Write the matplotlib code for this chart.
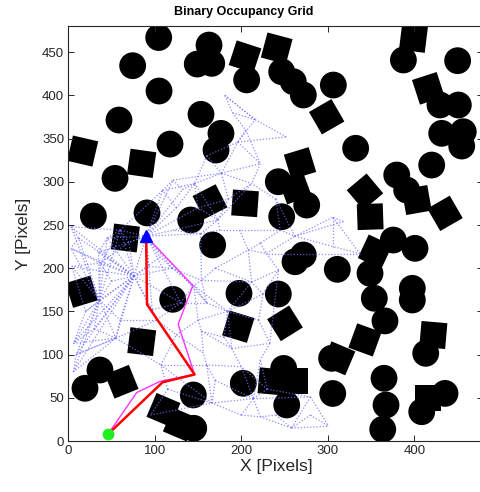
import matplotlib
matplotlib.use("Agg")
import matplotlib.pyplot as plt
from matplotlib.patches import Circle, Rectangle

plt.rcParams['font.family'] = ['Liberation Sans', 'DejaVu Sans']

# ---------------- data ----------------
circle_x = [104.5, 74.4, 162.7, 149.1, 165.8, 104.9, 58.6, 153.4, 117.6, 176.5, 170.8, 54, 29, 91,
            141.5, 206.2, 246.7, 260.1, 271.7, 306.4, 387.4, 450.1, 429.7, 450.9, 431.7, 456.6, 454.8,
            332.2, 420.1, 242.8, 275.6, 246.7, 379.7, 391.2, 375.7, 400.8, 262.1, 271.7, 311, 348.8,
            242.8, 353.8, 397.7, 397.7, 366.1, 413.2, 249, 252.5, 305.7, 365, 367.3, 363.5, 435.5,
            408.6, 166.9, 120.7, 197.3, 36.6, 19.3, 202.3, 144.5, 145, 304.4]
circle_y = [467, 434.4, 458.3, 436.3, 437.1, 405.1, 371.5, 378.1, 343.7, 356.1, 336.8, 304, 260.4, 264,
            255.8, 418, 427.4, 415.9, 400.5, 412, 441, 440.2, 388.9, 388.9, 356.1, 358, 341.4,
            338.8, 319.4, 300.1, 273.1, 259.6, 307.9, 290.5, 232.6, 223, 207.5, 215.3, 198.7, 194.1,
            170.1, 165.2, 176.7, 163.2, 139, 101.5, 84, 41.7, 55, 72.6, 41.7, 13.5, 55.1,
            33.9, 226.9, 164, 170.9, 82.2, 61, 66.8, 53.3, 14.7, 95.7]
circle_r = 15.5

square_x = [16.6, 84.8, 163.8, 204.3, 66, 204.3, 240.9, 298.7, 399, 416.2, 267.9, 343, 349, 435.5,
            402.8, 354.6, 250.5, 196.5, 312.2, 343, 422, 235, 262, 416.2, 61.7, 84.9, 15.5, 110, 129, 262]
square_y = [335.6, 321.4, 277, 275.1, 235, 444.8, 454.5, 375.3, 466, 408.2, 321.4, 288.5, 259.6, 263.5,
            278.9, 219.1, 136.2, 132.3, 95.7, 117, 122.7, 69, 69, 49.4, 68.6, 115, 172.8, 36, 19, 293]
square_angle = [-13, -8, 27, -4, -7, -18, -15, 30, -7, 18, 17, 40, 2, 30,
                10, -25, 32, -17, -23, -20, -5, -5, 0, 0, 22, -7, 17, -23, -23, 20]
square_side = 30

node_x = [90, 76, 36, 3, 3, 4, 37, 35, 6, 6, 9, 55, 60, 109, 121, 132, 153, 106, 93, 121,
          102, 97, 107, 125, 150, 156, 145, 175, 198, 229, 216, 252, 196, 222, 212, 177, 146, 173, 208, 306,
          306, 262, 243, 212, 154, 233, 160, 166, 214, 258, 301, 280, 189, 154, 200, 222, 222, 184, 170, 181,
          337, 318, 245, 222, 30, 20, 50, 60, 70, 120, 130, 115, 95, 170, 200, 240, 280, 230, 180, 220,
          225, 160, 12, 45, 125, 150, 185, 240, 160, 190, 205]
node_y = [237, 191, 163, 248, 223, 202, 206, 218, 113, 80, 100, 119, 244, 290, 302, 291, 240, 213, 202, 244,
          140, 152, 88, 123, 140, 102, 180, 244, 244, 217, 372, 352, 346, 321, 298, 310, 298, 256, 221, 259,
          225, 237, 198, 184, 186, 113, 88, 44, 49, 15, 17, 51, 107, 127, 86, 94, 28, 150, 200, 400,
          217, 254, 244, 229, 130, 150, 185, 140, 230, 200, 160, 60, 30, 70, 30, 30, 30, 60, 120, 140,
          170, 160, 235, 235, 270, 270, 280, 280, 330, 380, 360]
edge_from = [0, 0, 0, 0, 0, 0, 0, 0, 0, 0, 0,
             1, 1, 1, 1, 1, 1, 1, 1, 1, 1, 1, 1, 1,
             2, 2, 2, 2, 2, 2, 2, 2,
             11, 11, 11, 11, 12, 12, 12, 13, 14, 15, 14, 35, 35, 35, 32, 30, 32, 30, 32, 33, 36, 36, 13,
             16, 37, 27, 28, 38, 29, 41, 40, 41, 16, 44, 26, 44, 43, 42, 38, 16, 37, 16, 19,
             21, 20, 23, 24, 53, 52, 45, 52, 54, 46, 47, 48, 46, 25, 22, 22, 47, 48, 51, 49, 51, 56, 56,
             45, 53, 57, 57, 57, 26, 55, 58, 58, 58, 2, 6, 5, 8, 10, 9,
             1, 1, 1, 1, 1, 1, 1, 1, 1, 1, 1,
             2, 2, 2, 2, 2, 2, 2,
             0, 0, 0, 0, 0, 0, 0,
             84, 84, 85, 85, 85, 86, 86, 86, 87, 87, 87, 62, 62, 62, 63, 63, 60, 60, 61, 61, 60,
             88, 88, 88, 89, 89, 90, 90, 59, 59,
             70, 70, 70, 70, 81, 81, 81, 69, 69, 69, 69,
             71, 71, 72, 71, 73, 73, 73, 74, 74, 74, 75, 75, 76, 76, 77, 77, 77, 77, 78, 78, 78,
             79, 79, 79, 80, 80, 80,
             64, 64, 65, 65, 66, 67, 67, 68, 68, 82, 82, 83, 83]
edge_to = [1, 12, 13, 14, 15, 16, 17, 18, 19, 7, 21,
           2, 3, 4, 5, 6, 7, 12, 18, 21, 20, 11, 8, 17,
           4, 5, 8, 9, 10, 11, 6, 3,
           9, 10, 22, 20, 3, 6, 13, 14, 15, 36, 35, 32, 33, 34, 30, 31, 31, 59, 33, 34, 35, 37, 36,
           37, 27, 28, 38, 29, 41, 40, 39, 39, 44, 26, 24, 43, 42, 29, 43, 27, 34, 19, 37,
           20, 23, 24, 53, 52, 45, 55, 54, 46, 47, 48, 54, 25, 23, 23, 46, 22, 51, 49, 50, 50, 48, 49,
           42, 25, 24, 43, 52, 57, 48, 44, 43, 38, 7, 4, 6, 11, 11, 10,
           64, 65, 66, 67, 68, 69, 70, 82, 83, 10, 9,
           64, 65, 66, 67, 82, 83, 12,
           68, 83, 84, 85, 69, 70, 81,
           13, 36, 36, 37, 86, 34, 35, 37, 34, 62, 41, 28, 41, 63, 29, 38, 40, 39, 39, 41, 29,
           35, 36, 32, 30, 90, 32, 33, 89, 30,
           20, 21, 26, 81, 44, 26, 57, 17, 18, 26, 44,
           22, 72, 47, 47, 46, 47, 48, 47, 48, 56, 56, 49, 49, 50, 48, 51, 54, 55, 52, 57, 53,
           45, 57, 80, 43, 42, 57,
           8, 11, 8, 5, 6, 11, 20, 12, 6, 3, 4, 12, 7]

red_x = [46, 109, 146, 91, 90]
red_y = [8, 68, 77, 158, 237]
mag_x = [46, 79, 106, 146, 127, 144, 90]
mag_y = [8, 56, 69, 77, 135, 180, 237]
start_xy = (46, 8)
goal_xy = (90, 237)

# ---------------- figure ----------------
W, H = 481, 492
fig = plt.figure(figsize=(W / 100, H / 100), dpi=100)
ax = fig.add_axes([68.3 / W, 51 / H, 415.2 / W, 414.7 / H])
ax.set_xlim(0, 480)
ax.set_ylim(0, 480)

for x, y in zip(circle_x, circle_y):
    ax.add_patch(Circle((x, y), circle_r, facecolor='black', edgecolor='none', zorder=1))
for x, y, a in zip(square_x, square_y, square_angle):
    ax.add_patch(Rectangle((x - square_side / 2, y - square_side / 2), square_side, square_side,
                           angle=a, rotation_point='center', facecolor='black',
                           edgecolor='none', zorder=1))

for i, j in zip(edge_from, edge_to):
    ax.plot([node_x[i], node_x[j]], [node_y[i], node_y[j]], ls=(0, (1, 1.5)),
            color='#6f6fff', lw=0.9, alpha=0.8, zorder=2)

ax.plot(mag_x, mag_y, color='#ff33ff', lw=1.0, zorder=3)
ax.plot(red_x, red_y, color='red', lw=1.8, zorder=4)
ax.plot([start_xy[0]], [start_xy[1]], 'o', color='#22ee22', ms=7.5, mec='#22ee22', zorder=5, clip_on=False)
ax.plot([goal_xy[0]], [goal_xy[1]], '^', color='blue', ms=9, mec='blue', zorder=5)

ax.set_xticks([0, 100, 200, 300, 400])
ax.set_yticks(range(0, 451, 50))
ax.tick_params(direction='in', length=4, width=0.7, colors='#262626', labelsize=9.5,
               top=True, right=True, pad=3)
for s in ax.spines.values():
    s.set_color('#262626')
    s.set_linewidth(0.8)
ax.set_xlabel('X [Pixels]', fontsize=12.5, color='#262626', labelpad=1)
ax.set_ylabel('Y [Pixels]', fontsize=12.5, color='#262626', labelpad=8)
fig.text(244 / W, 1 - 12 / H, 'Binary Occupancy Grid', ha='center', va='center',
         fontsize=9, fontweight='bold', color='black')

fig.savefig('out.png', dpi=100)
